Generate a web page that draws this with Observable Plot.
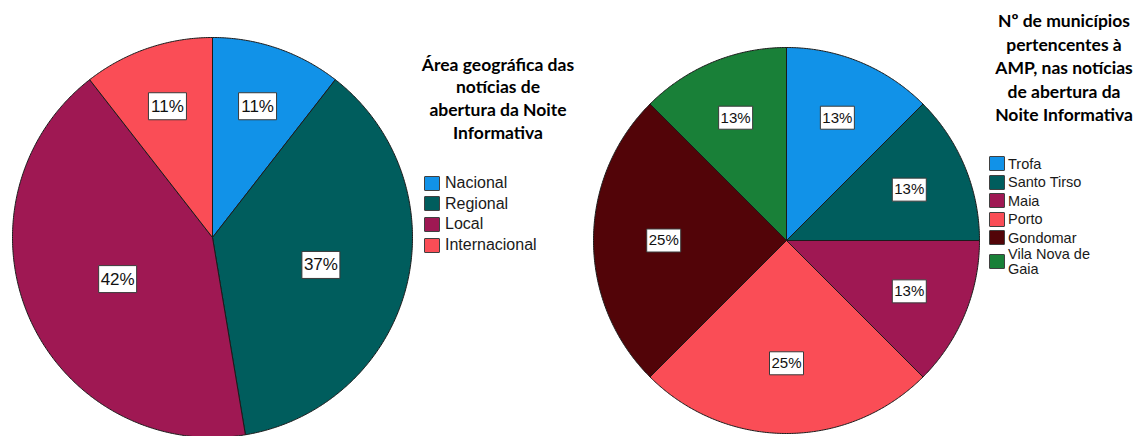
<!DOCTYPE html>
<html><head><meta charset="utf-8">
<script src="https://cdn.jsdelivr.net/npm/d3@7"></script>
<script src="https://cdn.jsdelivr.net/npm/@observablehq/plot@0.6"></script>
<style>
body{margin:0;background:#fff;}
#wrap{position:relative;width:1136px;height:436px;overflow:hidden;background:#fff;}
.pie{position:absolute;top:0;}
.title{position:absolute;font-family:Lato,"Open Sans",sans-serif;font-weight:700;font-size:17px;text-align:center;color:#000;white-space:nowrap;}
.legend{position:absolute;font-family:"Liberation Sans",Arial,sans-serif;color:#1a1a1a;}
.legend .row{display:flex;align-items:center;}
.legend .sw{flex:none;border:1px solid #404040;border-radius:1px;box-sizing:border-box;}
</style></head><body><div id="wrap"></div>
<script>
// ---- data ----
const areaNames  = ["Nacional", "Regional", "Local", "Internacional"];
const areaCounts = [2, 7, 8, 2];
const areaLabels = ["11%", "37%", "42%", "11%"];
const areaTitle  = ["Área geográfica das", "notícias de", "abertura da Noite", "Informativa"];

const ampNames  = ["Trofa", "Santo Tirso", "Maia", "Porto", "Gondomar", "Vila Nova de Gaia"];
const ampCounts = [1, 1, 1, 2, 2, 1];
const ampLabels = ["13%", "13%", "13%", "25%", "25%", "13%"];
const ampTitle  = ["Nº de municípios", "pertencentes à", "AMP, nas notícias", "de abertura da", "Noite Informativa"];

const palette = ["#1192e8", "#005d5d", "#9f1853", "#fa4d56", "#520408", "#198038"];

// ---- helpers ----
function piePlot(names, counts, labels, colors, o) {
  const arcs = d3.pie().sort(null).value(d => d)(counts);
  const pts = [];
  arcs.forEach((a, i) => {
    const n = names[i];
    pts.push({name: n, x: 0, y: 0});
    const steps = Math.max(2, Math.ceil((a.endAngle - a.startAngle) / (Math.PI / 360)));
    for (let k = 0; k <= steps; k++) {
      const t = a.startAngle + (a.endAngle - a.startAngle) * k / steps;
      pts.push({name: n, x: Math.sin(t), y: Math.cos(t)});
    }
    pts.push({name: n, x: 0, y: 0});
  });
  const lab = arcs.map((a, i) => {
    const m = (a.startAngle + a.endAngle) / 2, h = (a.endAngle - a.startAngle) / 2;
    const d = 1.06 * 2 * Math.sin(h) / (3 * h);
    return {label: labels[i], x: d * Math.sin(m), y: d * Math.cos(m)};
  });
  const box = {draw(ctx) { ctx.rect(-o.boxW / 2, -o.boxH / 2, o.boxW, o.boxH); }};
  return Plot.plot({
    width: o.width, height: o.height, margin: 0,
    x: {domain: [-1, 1], range: [o.cx - o.r, o.cx + o.r], axis: null},
    y: {domain: [-1, 1], range: [o.cy + o.r, o.cy - o.r], axis: null},
    color: {domain: names, range: colors},
    style: {background: "transparent", overflow: "visible"},
    marks: [
      Plot.line(pts, {x: "x", y: "y", z: "name", fill: "name", stroke: "#1b1b1b", strokeWidth: 1, strokeLinejoin: "miter", strokeLinecap: "butt"}),
      Plot.dot(lab, {x: "x", y: "y", symbol: box, fill: "white", stroke: "#3a3a3a", strokeWidth: 1}),
      Plot.text(lab, {x: "x", y: "y", text: "label", fontSize: o.fontSize, fill: "#111", fontFamily: "Liberation Sans, Arial, sans-serif"})
    ]
  });
}

function legend(names, colors, o) {
  const div = document.createElement("div");
  div.className = "legend";
  div.style.left = o.left + "px";
  div.style.top = o.top + "px";
  div.style.fontSize = o.fontSize + "px";
  div.style.lineHeight = o.lineHeight + "px";
  names.forEach((n, i) => {
    const row = document.createElement("div");
    row.className = "row";
    row.style.minHeight = o.rowH + "px";
    const sw = document.createElement("div");
    sw.className = "sw";
    sw.style.width = o.swW + "px";
    sw.style.height = o.swH + "px";
    sw.style.marginRight = o.gap + "px";
    sw.style.background = colors[i];
    const t = document.createElement("div");
    t.textContent = n;
    t.style.maxWidth = o.maxText + "px";
    row.append(sw, t);
    div.append(row);
  });
  return div;
}

function title(lines, o) {
  const div = document.createElement("div");
  div.className = "title";
  div.style.left = (o.cx - 100) + "px";
  div.style.width = "200px";
  div.style.top = o.top + "px";
  div.style.lineHeight = o.lineHeight + "px";
  div.style.fontSize = o.fontSize + "px";
  div.innerHTML = lines.map(l => l.replace(/&/g, "&amp;").replace(/</g, "&lt;")).join("<br>");
  return div;
}

// ---- layout ----
const wrap = document.getElementById("wrap");

const left = piePlot(areaNames, areaCounts, areaLabels, palette.slice(0, 4),
  {width: 424, height: 436, cx: 212, cy: 237, r: 200, fontSize: 17, boxW: 38, boxH: 27});
left.classList.add("pie"); left.style.left = "0px";
wrap.append(left);

const right = piePlot(ampNames, ampCounts, ampLabels, palette,
  {width: 412, height: 436, cx: 206, cy: 240, r: 193, fontSize: 15, boxW: 34, boxH: 23});
right.classList.add("pie"); right.style.left = "580px";
wrap.append(right);

wrap.append(title(areaTitle, {cx: 498, top: 53.5, lineHeight: 22.7, fontSize: 17.5}));
wrap.append(title(ampTitle, {cx: 1064, top: 9, lineHeight: 23.5, fontSize: 17.5}));

wrap.append(legend(areaNames, palette.slice(0, 4),
  {left: 424, top: 173, fontSize: 16, lineHeight: 18, rowH: 20.6, swW: 16, swH: 15, gap: 5, maxText: 200}));
wrap.append(legend(ampNames, palette,
  {left: 989, top: 154.7, fontSize: 14.5, lineHeight: 14.7, rowH: 18.5, swW: 16, swH: 15, gap: 3, maxText: 100}));
</script>
</body></html>
